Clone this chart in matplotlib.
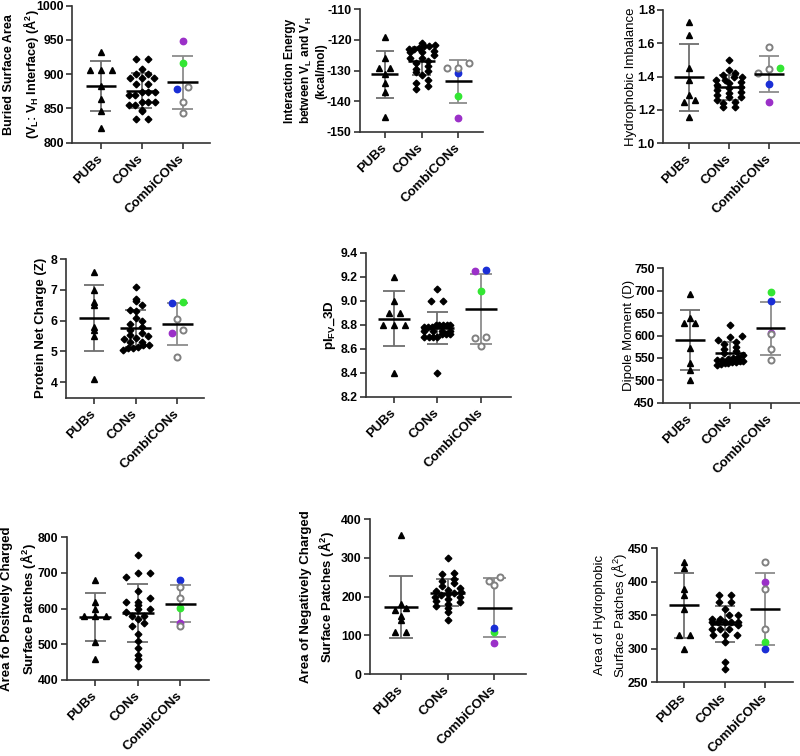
import numpy as np
import matplotlib
matplotlib.use('Agg')
import matplotlib.pyplot as plt

plt.rcParams['font.family'] = 'Liberation Sans'
plt.rcParams['mathtext.fontset'] = 'custom'
plt.rcParams['mathtext.rm'] = 'Liberation Sans'
plt.rcParams['mathtext.bf'] = 'Liberation Sans:bold'
plt.rcParams['mathtext.it'] = 'Liberation Sans:italic'

cats = ['PUBs', 'CONs', 'CombiCONs']
# CombiCONs point order: purple, green, blue, then three gray open circles
combi_colors = ['#9b30c8', '#33e633', '#1a2ed6', 'gray', 'gray', 'gray']

# buried surface area
bsa_pubs = [932, 906, 906, 906, 883, 864, 846, 822]
bsa_cons = [922, 922, 908, 901, 901, 895, 895, 895, 885, 885, 874, 874, 874,
            870, 870, 860, 860, 860, 855, 855, 846, 848, 834, 834]
bsa_combi = [948, 917, 878, 882, 859, 844]

# interaction energy VL-VH
ie_pubs = [-119, -126, -129, -129, -131, -134, -137, -145]
ie_cons = [-121, -121.5, -122, -122, -122.5, -123, -123, -123.5, -124, -124, -125, -126,
           -126, -127, -127.5, -128.5, -129.5, -130, -130.5, -131.5, -133, -134, -135, -136]
ie_combi = [-145.5, -138.2, -130.9, -127.6, -129.2, -129.2]

# hydrophobic imbalance
hi_pubs = [1.73, 1.65, 1.45, 1.38, 1.29, 1.26, 1.25, 1.16]
hi_cons = [1.50, 1.44, 1.42, 1.41, 1.40, 1.40, 1.38, 1.38, 1.37, 1.36, 1.35, 1.34,
           1.33, 1.32, 1.31, 1.30, 1.29, 1.28, 1.28, 1.26, 1.25, 1.24, 1.22, 1.22]
hi_combi = [1.25, 1.45, 1.356, 1.576, 1.42, 1.446]

# protein net charge
nc_pubs = [7.58, 7.0, 6.6, 6.5, 5.8, 5.7, 5.5, 4.1]
nc_cons = [7.1, 6.7, 6.65, 6.5, 6.35, 6.3, 6.1, 6.0, 5.9, 5.8, 5.7, 5.6,
           5.55, 5.5, 5.45, 5.4, 5.3, 5.3, 5.2, 5.2, 5.15, 5.1, 5.1, 5.05]
nc_combi = [5.6, 6.59, 6.57, 6.06, 5.70, 4.82]

# pI FV 3D
pi_pubs = [9.2, 9.0, 8.9, 8.9, 8.8, 8.8, 8.8, 8.4]
pi_cons = [9.1, 9.0, 9.0, 8.8, 8.8, 8.8, 8.8, 8.8, 8.78, 8.78, 8.78, 8.75, 8.75,
           8.75, 8.75, 8.72, 8.72, 8.72, 8.7, 8.7, 8.7, 8.7, 8.4]
pi_combi = [9.244, 9.08, 9.255, 8.70, 8.69, 8.62]

# dipole moment
dm_pubs = [692, 638, 629, 627, 571, 538, 524, 501]
dm_cons = [623, 600, 597, 590, 585, 580, 575, 570, 565, 560, 556, 552,
           550, 548, 546, 545, 543, 542, 541, 540, 539, 538, 536, 535]
dm_combi = [605, 696, 678, 603, 570, 545]

# positively charged patches
pos_pubs = [680, 620, 600, 580, 580, 580, 507, 458]
pos_cons = [750, 700, 700, 690, 650, 630, 620, 620, 610, 600, 600, 590,
            580, 580, 570, 560, 550, 530, 510, 490, 470, 460, 440]
pos_combi = [561, 601, 680, 660, 631, 551]

# negatively charged patches
neg_pubs = [359, 180, 170, 165, 150, 140, 110, 110]
neg_cons = [300, 262, 258, 245, 240, 235, 228, 222, 218, 215, 212, 210,
            208, 205, 200, 198, 195, 190, 185, 180, 175, 170, 160, 140]
neg_combi = [80, 109, 120, 241, 251, 230]

# hydrophobic patches
hp_pubs = [430, 420, 390, 380, 360, 320, 320, 300]
hp_cons = [380, 380, 370, 370, 360, 350, 350, 345, 345, 340, 340, 340,
           340, 340, 335, 330, 330, 330, 320, 320, 320, 310, 280, 270]
hp_combi = [400, 310, 300, 430, 390, 330]

panels = [
    (bsa_pubs, bsa_cons, bsa_combi,
     'Buried Surface Area\n(V$_\\mathbf{L}$: V$_\\mathbf{H}$ Interface) (Å$^\\mathbf{2}$)', 'bold', 9.1, 1.35,
     (800, 1000), np.arange(800, 1001, 50), '{:.0f}'),
    (ie_pubs, ie_cons, ie_combi,
     'Interaction Energy\nbetween V$_\\mathbf{L}$ and V$_\\mathbf{H}$\n(kcal/mol)', 'bold', 8.6, 1.2,
     (-150, -110), np.arange(-150, -109, 10), '{:.0f}'),
    (hi_pubs, hi_cons, hi_combi, 'Hydrophobic Imbalance', 'normal', 9.5, 1.3,
     (1.0, 1.8), np.arange(1.0, 1.81, 0.2), '{:.1f}'),
    (nc_pubs, nc_cons, nc_combi, 'Protein Net Charge (Z)', 'bold', 9.5, 1.3,
     (3.5, 8), np.arange(4, 8.1, 1), '{:.0f}'),
    (pi_pubs, pi_cons, pi_combi, 'pI$_\\mathbf{FV}$_3D', 'bold', 9.5, 1.3,
     (8.2, 9.4), np.arange(8.2, 9.41, 0.2), '{:.1f}'),
    (dm_pubs, dm_cons, dm_combi, 'Dipole Moment (D)', 'normal', 9.5, 1.3,
     (450, 750), np.arange(450, 751, 50), '{:.0f}'),
    (pos_pubs, pos_cons, pos_combi,
     'Area fo Positvely Charged\nSurface Patches (Å$^\\mathbf{2}$)', 'bold', 9.5, 1.3,
     (400, 800), np.arange(400, 801, 100), '{:.0f}'),
    (neg_pubs, neg_cons, neg_combi,
     'Area of Negatively Charged\nSurface Patches (Å$^\\mathbf{2}$)', 'bold', 9.5, 1.3,
     (0, 400), np.arange(0, 401, 100), '{:.0f}'),
    (hp_pubs, hp_cons, hp_combi,
     'Area of Hydrophobic\nSurface Patches (Å$^\\mathrm{2}$)', 'normal', 9.5, 1.3,
     (250, 450), np.arange(250, 451, 50), '{:.0f}'),
]

# axes boxes in pixels: left, right, top, bottom, x limits, y label centre offset from spine
boxes = [
    (72, 210, 5.7, 142.7, (-0.70, 2.67), -50),
    (360, 482.7, 9.3, 132, (-0.68, 2.67), -54),
    (663.3, 800, 10, 143.3, (-0.65, 2.77), -32),
    (65.7, 204, 259, 397.7, (-0.68, 2.64), -25),
    (366, 510.7, 252.7, 396.7, (-0.65, 2.69), -36),
    (663.3, 800, 268.3, 402.7, (-0.66, 2.73), -34.5),
    (66.7, 209.3, 537.3, 680, (-0.67, 2.68), -47),
    (370, 526, 519, 674.3, (-0.66, 2.68), -52),
    (656.7, 793, 548.3, 682.3, (-0.68, 2.69), -45),
]

W, H = 800, 756


def swarm(vals, y0, y_px, row_h, dx, max_half):
    # group values into rows of row_h pixels and spread each row sideways (pixels)
    y = (np.asarray(vals, float) - y0) * y_px
    rows = np.round(y / row_h)
    offs = np.zeros(len(y))
    for rr in np.unique(rows):
        idx = np.where(rows == rr)[0]
        idx = idx[np.argsort(y[idx], kind='stable')]
        n = len(idx)
        step = dx if n < 2 else min(dx, 2 * max_half / (n - 1))
        offs[idx] = (np.arange(n) - (n - 1) / 2) * step
    return offs


def mean_sd(ax, x, vals, color):
    m = np.mean(vals)
    s = np.std(vals, ddof=1)
    ax.vlines(x, m - s, m + s, color=color, lw=1.3, zorder=2)
    ax.hlines([m - s, m + s], x - 0.25, x + 0.25, color=color, lw=1.3, zorder=2)
    ax.hlines(m, x - 0.37, x + 0.37, color='black', lw=1.8, zorder=4)


fig = plt.figure(figsize=(W / 100, H / 100), dpi=100)

for (pubs, cons, combi, ylab, weight, fsize, lsp, ylim, yticks, fmt), (l, r, t, b, xlim, lab_off) in zip(panels, boxes):
    ax = fig.add_axes([l / W, 1 - b / H, (r - l) / W, (b - t) / H])
    ax.set_xlim(*xlim)
    ax.set_ylim(*ylim)
    y_px = (b - t) / (ylim[1] - ylim[0])
    cat_px = (r - l) / (xlim[1] - xlim[0])

    xo = swarm(pubs, ylim[0], y_px, 6, 11, 16) / cat_px
    ax.plot(0 + xo, pubs, ls='none', marker='^', ms=5, color='black', zorder=3)
    mean_sd(ax, 0, pubs, '#6e6e6e')

    xo = swarm(cons, ylim[0], y_px, 5, 12, 13) / cat_px
    ax.plot(1 + xo, cons, ls='none', marker='D', ms=3.4, color='black', zorder=3)
    mean_sd(ax, 1, cons, '#6e6e6e')

    xo = swarm(combi, ylim[0], y_px, 6, 11, 12) / cat_px
    mean_sd(ax, 2, combi, '#8c8c8c')
    for xi, v, c in zip(2 + xo, combi, combi_colors):
        if c == 'gray':
            ax.plot(xi, v, ls='none', marker='o', ms=4.4, mfc='white', mec='#808080', mew=1.4, zorder=3)
        else:
            ax.plot(xi, v, ls='none', marker='o', ms=4.6, color=c, zorder=3)

    ax.spines['top'].set_visible(False)
    ax.spines['right'].set_visible(False)
    for sp in ['left', 'bottom']:
        ax.spines[sp].set_linewidth(1.2)
        ax.spines[sp].set_color('#333333')
    ax.tick_params(direction='out', length=4, width=1.2, color='#333333', labelsize=8.8, pad=2)
    ax.set_yticks(yticks)
    ax.set_yticklabels([fmt.format(v) for v in yticks], fontweight='bold')
    ax.set_xticks([0, 1, 2])
    ax.set_xticklabels(cats, rotation=45, ha='right', va='center', rotation_mode='anchor',
                       fontweight='bold', fontsize=9.5)
    ax.tick_params(axis='x', pad=6)
    ax.set_ylabel(ylab, fontsize=fsize, fontweight=weight, linespacing=lsp, va='center')
    ax.yaxis.set_label_coords(lab_off / (r - l), 0.5)

fig.savefig('out.png', dpi=100)
